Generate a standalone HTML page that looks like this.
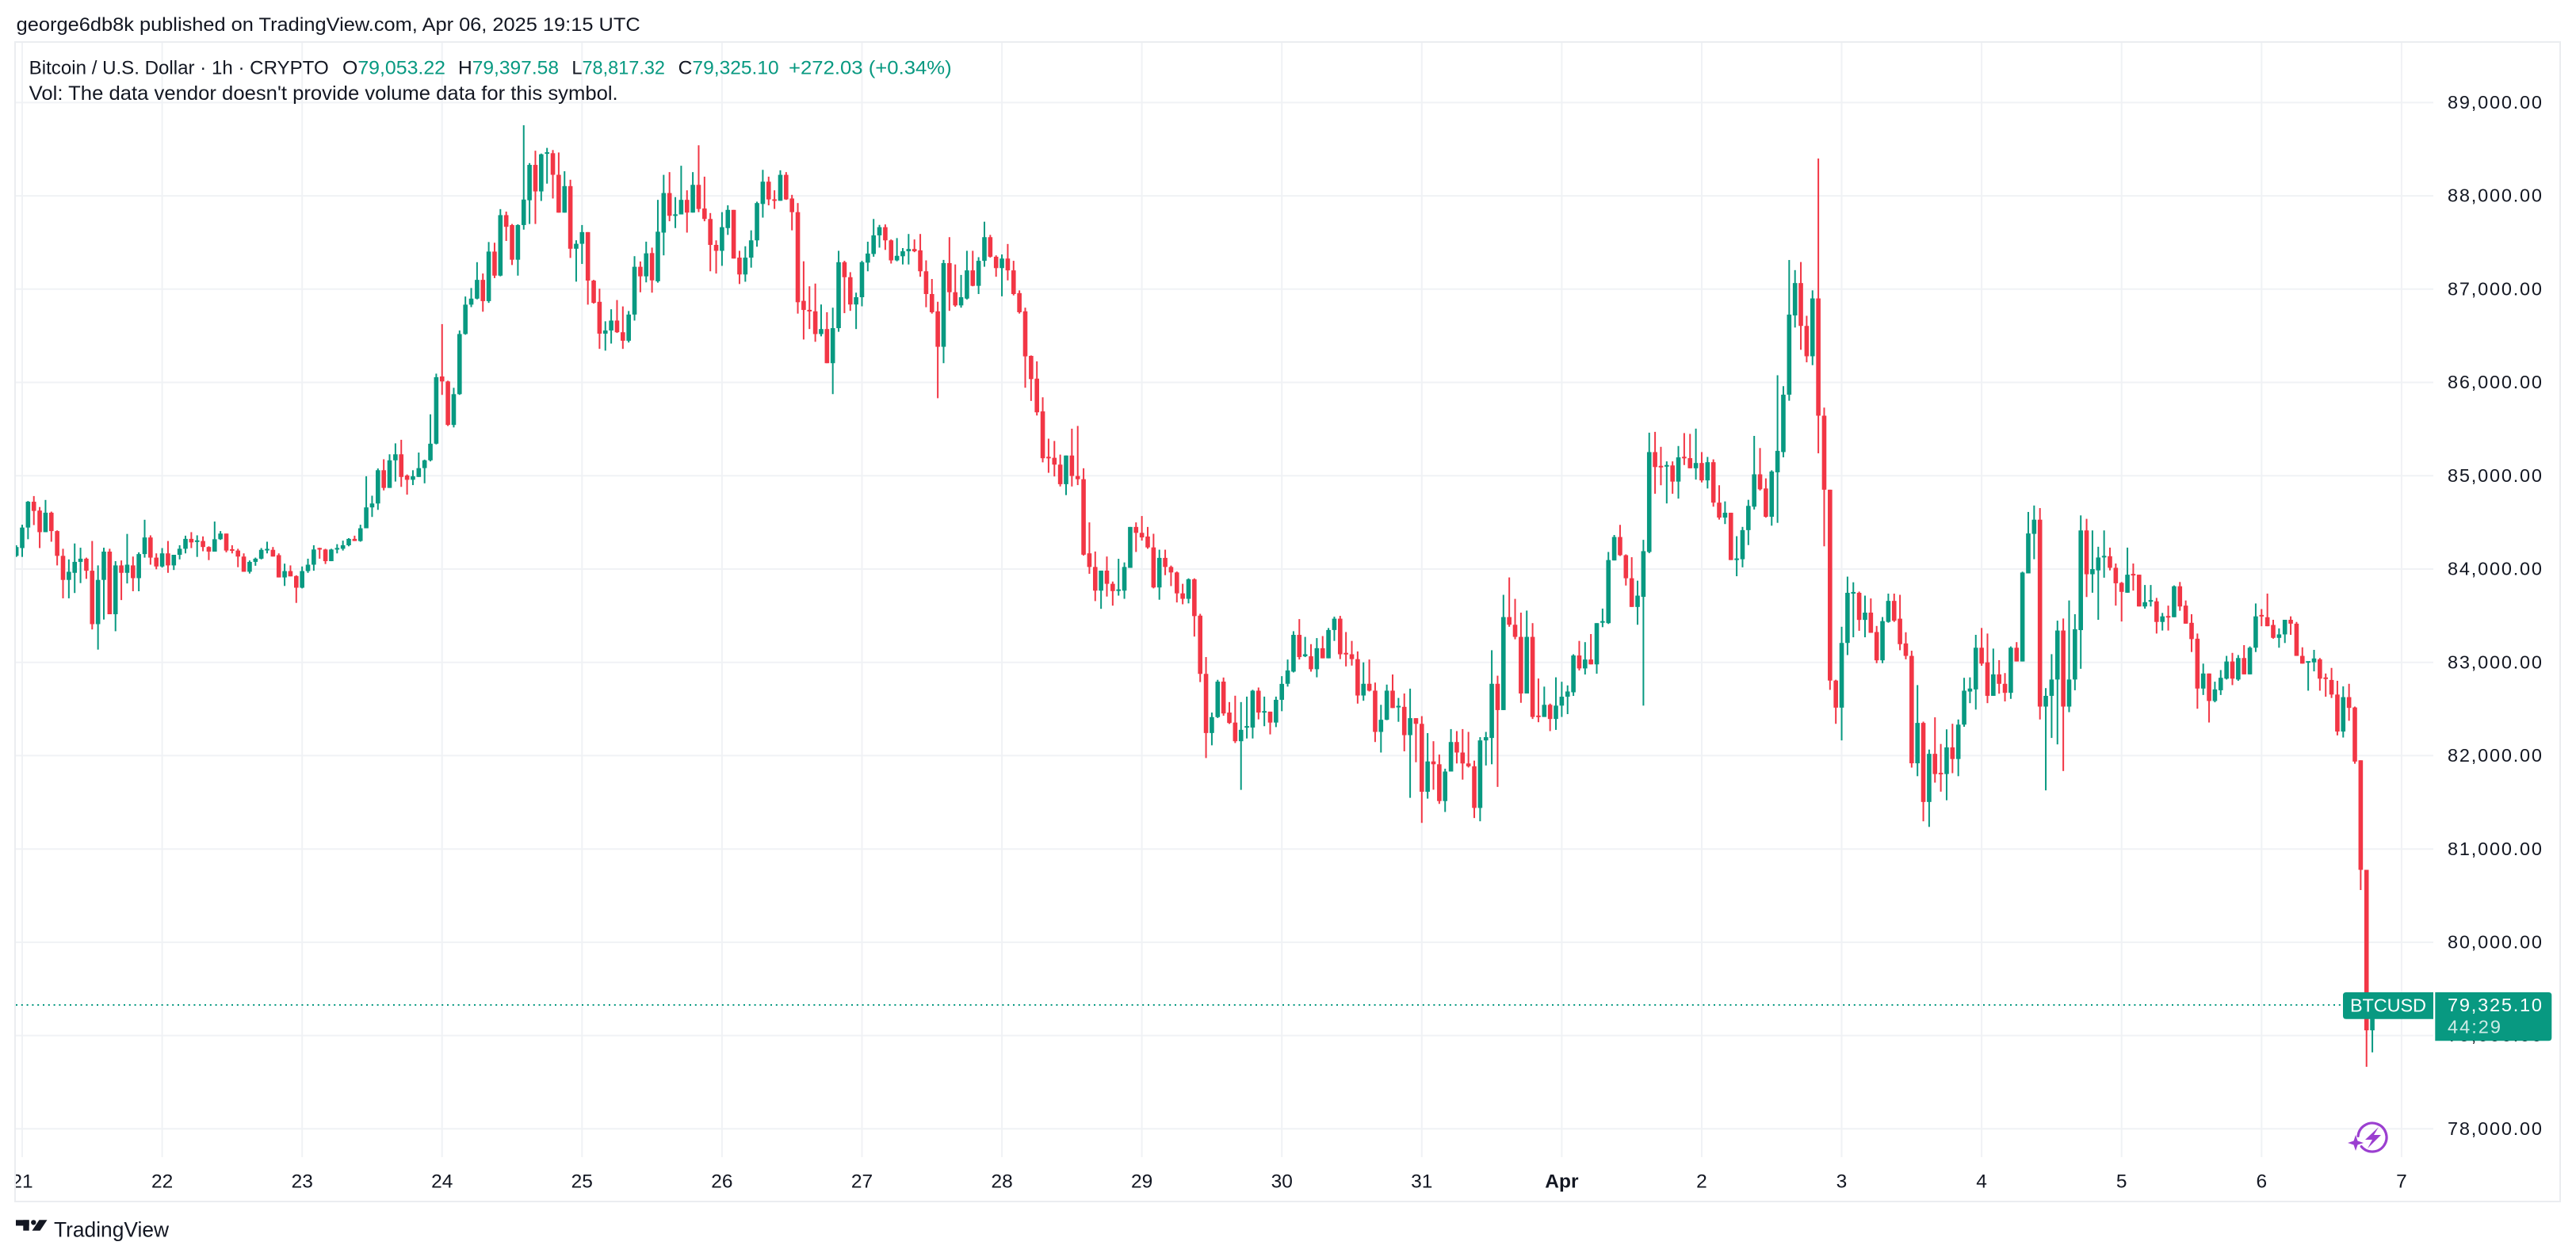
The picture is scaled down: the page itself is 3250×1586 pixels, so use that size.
<!DOCTYPE html>
<html><head><meta charset="utf-8"><style>
html,body{margin:0;padding:0;background:#fff;width:3250px;height:1586px;overflow:hidden}
svg{display:block}
text{font-family:"Liberation Sans",Arial,sans-serif;fill:#131722}
</style></head><body>
<svg id="s" width="3250" height="1586" viewBox="0 0 3250 1586" xmlns="http://www.w3.org/2000/svg">
<defs>
<clipPath id="cp"><rect x="20" y="54" width="3050" height="1406"/></clipPath>
<clipPath id="tp"><rect x="20" y="1460" width="3050" height="56"/></clipPath>
</defs>
<rect width="3250" height="1586" fill="#fff"/>
<g stroke="#f0f2f5" stroke-width="2">
<line x1="20" x2="3070" y1="1424.3" y2="1424.3"/>
<line x1="20" x2="3070" y1="1306.6" y2="1306.6"/>
<line x1="20" x2="3070" y1="1188.9" y2="1188.9"/>
<line x1="20" x2="3070" y1="1071.2" y2="1071.2"/>
<line x1="20" x2="3070" y1="953.4" y2="953.4"/>
<line x1="20" x2="3070" y1="835.7" y2="835.7"/>
<line x1="20" x2="3070" y1="718" y2="718"/>
<line x1="20" x2="3070" y1="600.3" y2="600.3"/>
<line x1="20" x2="3070" y1="482.5" y2="482.5"/>
<line x1="20" x2="3070" y1="364.8" y2="364.8"/>
<line x1="20" x2="3070" y1="247.1" y2="247.1"/>
<line x1="20" x2="3070" y1="129.4" y2="129.4"/>
<line y1="54" y2="1460" x1="28" x2="28"/>
<line y1="54" y2="1460" x1="204.6" x2="204.6"/>
<line y1="54" y2="1460" x1="381.2" x2="381.2"/>
<line y1="54" y2="1460" x1="557.7" x2="557.7"/>
<line y1="54" y2="1460" x1="734.3" x2="734.3"/>
<line y1="54" y2="1460" x1="910.9" x2="910.9"/>
<line y1="54" y2="1460" x1="1087.5" x2="1087.5"/>
<line y1="54" y2="1460" x1="1264.1" x2="1264.1"/>
<line y1="54" y2="1460" x1="1440.6" x2="1440.6"/>
<line y1="54" y2="1460" x1="1617.2" x2="1617.2"/>
<line y1="54" y2="1460" x1="1793.8" x2="1793.8"/>
<line y1="54" y2="1460" x1="1970.4" x2="1970.4"/>
<line y1="54" y2="1460" x1="2147" x2="2147"/>
<line y1="54" y2="1460" x1="2323.5" x2="2323.5"/>
<line y1="54" y2="1460" x1="2500.1" x2="2500.1"/>
<line y1="54" y2="1460" x1="2676.7" x2="2676.7"/>
<line y1="54" y2="1460" x1="2853.3" x2="2853.3"/>
<line y1="54" y2="1460" x1="3029.9" x2="3029.9"/>
</g>
<rect x="19" y="53" width="3211" height="1463" fill="none" stroke="#ebedf0" stroke-width="2"/>
<g id="candles" clip-path="url(#cp)"></g>
<line x1="20" x2="2956" y1="1268" y2="1268" stroke="#089981" stroke-width="2" stroke-dasharray="2 4.8"/>
<g font-size="23.5" text-anchor="end">
<text x="3207" y="1432" textLength="119">78,000.00</text>
<text x="3207" y="1314.2" textLength="119">79,000.00</text>
<text x="3207" y="1196.5" textLength="119">80,000.00</text>
<text x="3207" y="1078.8" textLength="119">81,000.00</text>
<text x="3207" y="961" textLength="119">82,000.00</text>
<text x="3207" y="843.3" textLength="119">83,000.00</text>
<text x="3207" y="725.6" textLength="119">84,000.00</text>
<text x="3207" y="607.9" textLength="119">85,000.00</text>
<text x="3207" y="490.1" textLength="119">86,000.00</text>
<text x="3207" y="372.4" textLength="119">87,000.00</text>
<text x="3207" y="254.7" textLength="119">88,000.00</text>
<text x="3207" y="137" textLength="119">89,000.00</text>
</g>
<g font-size="24.5" text-anchor="middle" clip-path="url(#tp)">
<text x="28" y="1498.3">21</text>
<text x="204.6" y="1498.3">22</text>
<text x="381.2" y="1498.3">23</text>
<text x="557.7" y="1498.3">24</text>
<text x="734.3" y="1498.3">25</text>
<text x="910.9" y="1498.3">26</text>
<text x="1087.5" y="1498.3">27</text>
<text x="1264.1" y="1498.3">28</text>
<text x="1440.6" y="1498.3">29</text>
<text x="1617.2" y="1498.3">30</text>
<text x="1793.8" y="1498.3">31</text>
<text x="1970.4" y="1498.3" font-weight="bold">Apr</text>
<text x="2147" y="1498.3">2</text>
<text x="2323.5" y="1498.3">3</text>
<text x="2500.1" y="1498.3">4</text>
<text x="2676.7" y="1498.3">5</text>
<text x="2853.3" y="1498.3">6</text>
<text x="3029.9" y="1498.3">7</text>
</g>
<path d="M2960 1252 H3070 V1285.7 H2960 Q2956 1285.7 2956 1281.7 V1256 Q2956 1252 2960 1252 Z" fill="#089981"/>
<text x="2965" y="1276.5" font-size="23.5" textLength="96" style="fill:#fff">BTCUSD</text>
<path d="M3072.3 1252 H3215.3 Q3219.3 1252 3219.3 1256 V1309.3 Q3219.3 1313.3 3215.3 1313.3 H3072.3 Z" fill="#089981"/>
<text x="3207" y="1276" font-size="23.5" text-anchor="end" textLength="119" style="fill:#fff">79,325.10</text>
<text x="3088" y="1303.3" font-size="23.5" textLength="67" style="fill:#fff;fill-opacity:0.8">44:29</text>
<g>
<path d="M2975.07 1433.43 A18 18 0 1 1 2979.2 1446.6" fill="none" stroke="#9b3fd0" stroke-width="3.2" stroke-linecap="round"/>
<polygon points="3001,1422 2984,1438 2993,1438 2987,1449 3004,1432 2995,1432" fill="#9b3fd0"/>
<polygon points="2972,1432 2974.5,1439.5 2982,1442 2974.5,1444.5 2972,1452 2969.5,1444.5 2962,1442 2969.5,1439.5" fill="#9b3fd0"/>
</g>
<text x="20.7" y="39" font-size="24" textLength="787" lengthAdjust="spacingAndGlyphs">george6db8k published on TradingView.com, Apr 06, 2025 19:15 UTC</text>
<text x="36.7" y="93.3" font-size="24" textLength="378" lengthAdjust="spacingAndGlyphs">Bitcoin / U.S. Dollar · 1h · CRYPTO</text>
<text x="432" y="93.3" font-size="24" textLength="130" lengthAdjust="spacingAndGlyphs">O<tspan style="fill:#089981">79,053.22</tspan></text>
<text x="578" y="93.3" font-size="24" textLength="127" lengthAdjust="spacingAndGlyphs">H<tspan style="fill:#089981">79,397.58</tspan></text>
<text x="721.4" y="93.3" font-size="24" textLength="117.6" lengthAdjust="spacingAndGlyphs">L<tspan style="fill:#089981">78,817.32</tspan></text>
<text x="855.7" y="93.3" font-size="24" textLength="127" lengthAdjust="spacingAndGlyphs">C<tspan style="fill:#089981">79,325.10</tspan></text>
<text x="995" y="93.3" font-size="24" textLength="205.7" lengthAdjust="spacingAndGlyphs" style="fill:#089981">+272.03 (+0.34%)</text>
<text x="36.7" y="126" font-size="25" textLength="743" lengthAdjust="spacingAndGlyphs">Vol: The data vendor doesn't provide volume data for this symbol.</text>
<g fill="#131722">
<rect x="20" y="1539.3" width="16.7" height="7.2"/>
<rect x="29.3" y="1539.3" width="7.4" height="13.4"/>
<circle cx="42.3" cy="1542.4" r="3.2"/>
<polygon points="49.5,1539.3 59.5,1539.3 50.5,1552.7 40.5,1552.7"/>
</g>
<text x="68" y="1560.7" font-size="26.5" textLength="145" lengthAdjust="spacingAndGlyphs">TradingView</text>
</svg>
<script>
(function(){
var S1=[[1,1210,1235,1205,1238],[1,1155,1213,1147,1238],[1,1082,1155,1080,1188],[0,1082,1108,1066,1148],[0,1107,1168,1097,1213],[1,1113,1168,1077,1168],[0,1113,1165,1110,1195],[0,1165,1235,1163,1262],[0,1235,1303,1215,1355],[1,1280,1303,1245,1355],[1,1252,1283,1200,1340],[1,1243,1252,1212,1312],[0,1243,1277,1240,1300],[0,1277,1428,1193,1443],[1,1303,1428,1262,1500],[1,1223,1303,1212,1415],[0,1223,1400,1215,1400],[1,1262,1400,1250,1448],[0,1262,1283,1248,1360],[1,1260,1283,1173,1313],[0,1262,1298,1237,1335],[1,1230,1298,1225,1335],[1,1183,1230,1133,1240],[0,1183,1240,1177,1260],[0,1240,1265,1228,1273],[1,1228,1265,1213,1268],[0,1228,1262,1193,1283],[1,1232,1262,1232,1275],[1,1215,1232,1205,1245],[1,1187,1215,1178,1228],[0,1187,1197,1168,1213],[1,1192,1195,1177,1238],[0,1193,1210,1180,1222],[0,1210,1223,1208,1247],[1,1188,1223,1138,1223],[1,1172,1188,1165,1190],[0,1172,1220,1172,1225],[0,1217,1220,1205,1228],[0,1220,1237,1215,1267],[0,1237,1280,1228,1280],[1,1252,1280,1248,1285],[1,1243,1252,1240,1263],[1,1218,1243,1213,1245],[1,1216,1219,1195,1228],[0,1218,1237,1210,1237],[0,1233,1296,1228,1296],[1,1278,1296,1257,1320],[0,1278,1293,1262,1293],[0,1292,1325,1290,1368],[1,1278,1325,1265,1327],[1,1260,1278,1243,1283],[1,1217,1260,1205,1277],[0,1213,1217,1212,1243],[0,1217,1250,1215,1258],[1,1217,1250,1215,1250],[1,1213,1217,1202,1228],[1,1205,1215,1192,1220],[1,1187,1205,1185,1208],[0,1187,1193,1178,1193],[1,1157,1193,1147,1195],[1,1098,1157,1010,1157],[1,1087,1098,1065,1125],[1,993,1087,988,1105],[0,993,1043,962,1050],[1,965,1043,948,1043],[1,948,965,917,1025],[0,948,1012,907,1040],[0,1008,1020,1005,1062],[1,1010,1020,993,1035],[1,987,1012,943,1012],[1,965,987,963,1030],[1,918,965,835,968],[1,730,918,720,920],[0,728,742,580,780],[0,742,865,740,868],[1,778,865,760,872],[1,608,778,598,780],[1,525,608,502,610],[1,508,525,478,532],[1,455,508,405,510],[0,455,515,437,545],[1,375,515,348,520],[0,375,443,350,450],[1,272,443,255,445],[0,272,305,262,345],[0,300,398,297,413],[1,300,398,298,443],[1,228,300,18,313],[1,130,230,125,297],[0,130,205,90,297],[1,100,205,98,232],[1,95,98,82,183],[0,97,158,88,225],[0,158,265,95,265],[1,190,265,148,265],[0,190,367,172,393],[1,353,367,343,460],[1,320,353,300,410],[0,320,457,320,525],[0,457,520,455,522],[0,517,607,480,650],[1,598,607,572,655],[1,570,598,538,635],[0,570,603,512,605],[0,603,627,530,650],[1,553,627,543,632],[1,418,553,388,570],[0,418,445,403,490],[1,380,445,347,462]];
var S2=[[0,295,355,283,382],[1,248,357,178,360],[1,163,250,123,300],[0,163,213,117,225],[1,210,213,172,240],[1,178,210,103,210],[0,178,206,157,250],[1,145,206,117,206],[0,145,198,58,205],[0,197,220,127,225],[0,220,277,207,335],[0,277,290,267,340],[1,238,290,205,323],[1,200,240,190,255],[0,200,307,200,307],[0,305,342,290,363],[1,305,342,280,358],[1,267,305,245,327],[1,185,267,182,281],[1,138,187,112,217],[0,138,177,127,190],[0,177,180,157,198],[1,123,180,113,180],[0,123,177,117,178],[0,175,205,167,245],[0,205,403,185,428],[0,400,420,313,485],[0,420,423,368,462],[0,423,473,362,490],[1,462,473,408,478],[0,462,537,425,537],[1,460,537,415,605],[1,315,460,290,468],[0,315,348,312,427],[0,348,408,337,422],[1,392,408,382,462],[1,315,392,312,412],[1,296,316,270,335],[1,256,297,220,303],[1,238,256,233,283],[0,238,267,232,288],[0,267,311,265,318],[1,301,311,262,313],[1,291,302,284,320],[1,286,291,253,320],[0,286,291,265,293],[0,289,335,253,347],[0,335,385,311,414],[0,385,425,352,428],[0,423,501,402,614],[1,317,501,310,537],[0,317,381,260,422],[0,381,410,320,413],[1,392,410,343,415],[1,333,395,290,397],[0,333,367,290,368],[1,312,367,304,385],[1,260,312,226,325],[0,260,303,255,305],[0,303,328,300,347],[1,307,328,298,390],[0,307,333,275,355],[0,333,385,312,388],[0,383,425,377,428],[0,423,522,415,591],[0,521,572,520,620],[0,571,645,533,652],[0,643,746,612,755],[0,743,746,703,778],[0,745,760,708,786],[0,760,803,738,808],[1,740,803,740,827],[0,740,785,681,808],[0,785,792,675,805],[0,792,958,768,960],[0,955,985,887,1000],[0,985,1037,951,1060],[1,993,1037,993,1077],[0,993,1022,962,1050],[0,1022,1038,1017,1070],[1,1035,1037,967,1048],[1,985,1037,975,1055],[1,897,987,897,987],[0,897,910,887,952],[0,910,920,873,927],[0,918,942,897,945],[0,942,1030,912,1032],[1,965,1030,947,1057],[0,965,985,947,1003],[0,985,997,982,1027],[0,997,1043,995,1063],[0,1043,1055,1022,1067],[1,1012,1055,1010,1065],[0,1012,1093,1010,1138],[0,1092,1220,1088,1238],[0,1220,1350,1183,1405],[1,1315,1350,1305,1377],[1,1237,1315,1233,1317],[0,1237,1307,1228,1312],[0,1305,1328,1282,1330],[0,1327,1368,1268,1372],[1,1343,1368,1282,1475],[1,1335,1338,1270,1362],[1,1257,1338,1255,1362],[0,1257,1305,1250,1320],[1,1302,1305,1270,1335],[0,1303,1327,1303,1353],[1,1277,1327,1270,1337],[1,1242,1277,1225,1302]];
var S3=[[1,1070,1103,1043,1110],[1,982,1073,973,1075],[0,982,1037,943,1043],[1,1030,1035,987,1037],[0,1035,1067,1005,1073],[1,1015,1067,990,1087],[0,1015,1040,985,1040],[1,970,1040,965,1040],[1,942,970,937,997],[0,942,1030,935,1042],[0,1027,1030,975,1060],[0,1030,1042,997,1058],[0,1042,1132,1023,1152],[1,1103,1132,1050,1145],[0,1103,1120,1043,1122],[0,1120,1222,1100,1247],[1,1192,1222,1155,1273],[1,1120,1192,1105,1193],[0,1120,1163,1080,1163],[1,1158,1161,1138,1197],[0,1160,1230,1127,1270],[1,1188,1230,1115,1385],[0,1188,1202,1188,1297],[0,1202,1370,1183,1447],[1,1295,1370,1225,1387],[0,1295,1302,1245,1365],[0,1302,1393,1278,1400],[1,1320,1393,1313,1420],[1,1247,1320,1215,1320],[0,1247,1273,1220,1300],[0,1273,1300,1215,1340],[0,1300,1307,1222,1310],[0,1307,1410,1293,1435],[1,1243,1410,1235,1443],[1,1235,1243,1222,1305],[1,1103,1237,1020,1302],[0,1103,1168,1083,1358],[1,938,1168,883,1168],[0,938,957,840,962],[0,957,987,893,993],[0,987,1127,927,1150],[1,987,1127,922,1127],[0,987,1185,953,1190],[0,1182,1185,1090,1198],[1,1155,1185,1110,1185],[0,1155,1190,1152,1220],[1,1157,1190,1087,1217],[1,1135,1157,1098,1185],[1,1122,1135,1107,1178],[1,1033,1124,1030,1133],[0,1033,1065,997,1070],[1,1043,1065,1000,1080],[0,1043,1055,980,1055],[1,953,1055,953,1078],[1,948,952,917,963],[1,797,953,777,955],[1,740,798,735,798],[0,740,785,710,787],[0,785,842,783,860],[0,842,913,790,913],[1,885,913,848,957],[1,775,888,747,1157],[1,530,777,482,780],[0,530,567,480,633],[0,565,567,517,612],[1,563,565,553,657],[0,563,603,553,633],[1,543,603,515,645],[0,542,545,483,562],[0,545,570,485,570],[1,557,570,472,598],[0,557,600,530,605],[1,555,600,542,620],[0,555,655,548,665],[0,655,692,612,697],[1,680,692,652,708],[0,680,797,680,797],[1,793,797,738,837],[1,723,795,715,815],[1,663,723,648,760],[1,585,665,490,672],[0,585,622,520,625],[0,620,690,595,692],[1,578,690,575,712],[1,527,580,340,705],[1,388,530,367,543],[1,190,388,55,403],[1,112,192,80,222],[0,112,218,60,277],[0,218,293,193,308],[1,150,293,130,315],[0,150,440,-196,533],[0,440,623,420,763],[0,623,1095,623,1118],[0,1095,1162,1093,1202],[1,1002,1162,962,1243],[1,878,1002,838,1032],[1,876,880,852,988],[0,878,945,875,972],[1,927,945,885,988],[0,927,977,892,977],[0,975,1045,960,1052],[1,948,1045,938,1052],[1,898,950,880,952],[0,898,947,880,950],[0,942,1005,883,1020]];
var S4=[[0,483,512,457,520],[0,512,762,500,772],[1,668,762,580,792],[0,668,852,665,897],[1,740,852,730,910],[0,740,787,655,807],[0,785,787,717,828],[1,725,787,683,848],[0,725,752,670,785],[1,672,752,660,792],[1,593,672,563,677],[1,588,595,562,622],[1,493,590,463,637],[0,493,530,447,535],[0,527,605,460,622],[1,555,605,495,605],[0,555,577,522,600],[0,577,598,552,618],[1,493,598,490,612],[0,493,525,480,525],[1,318,525,316,525],[1,227,320,177,320],[1,195,228,162,287],[0,195,630,168,660],[1,605,630,587,825],[1,567,605,508,703],[1,453,567,430,718],[0,453,630,425,780],[1,567,630,383,643],[1,450,567,415,592],[1,220,452,185,542],[0,220,322,193,375],[1,310,322,220,365],[1,283,313,258,428],[1,280,282,220,330],[0,280,307,260,313],[0,307,343,297,395],[0,342,363,340,432],[1,323,365,260,365],[0,322,324,297,360],[0,323,397,323,397],[1,387,397,347,402],[1,383,385,347,397],[0,385,433,377,460],[1,420,433,412,453],[0,420,422,395,453],[1,350,422,348,422],[0,350,397,340,407],[0,395,437,383,437],[0,435,473,415,503],[0,472,588,460,635],[1,553,588,530,603],[0,553,617,553,667],[1,590,617,572,620],[1,563,592,545,603],[1,525,565,512,567],[0,525,565,505,580],[1,517,567,510,570],[0,517,555,487,555],[1,493,555,490,555],[1,420,493,390,503],[0,417,420,403,443],[0,422,443,367,443],[0,440,470,428,472],[1,462,470,448,493],[1,428,462,428,482],[0,428,437,420,463],[0,437,512,433,512],[0,512,530,492,530],[1,525,527,525,593],[1,518,527,498,548],[0,520,565,517,593],[0,563,565,553,607],[0,568,602,540,610],[0,602,688,570,697],[1,608,688,583,702],[0,608,633,577,663],[0,632,758,630,763],[0,755,1010,755,1057],[0,1010,1383.5,1010,1468.4],[1,1324.5,1383.5,1308.6,1434.8]];
var segs=[[150,700/1568,-1,S1],[150,900/1568,108,S2],[300,800/1568,217,S3],[550,850/1568,323,S4]];
var out='';
for(var s=0;s<segs.length;s++){
 var y0=segs[s][0],sy=segs[s][1],h0=segs[s][2],arr=segs[s][3];
 for(var i=0;i<arr.length;i++){
  var c=arr[i],h=h0+i,x=28+h*7.3575,col=c[0]?'#089981':'#f23645';
  var T=y0+c[1]*sy,B=y0+c[2]*sy,WT=y0+c[3]*sy,WB=y0+c[4]*sy;
  if(WT>T)WT=T; if(WB<B)WB=B;
  if(B-T<2){var m=(T+B)/2;T=m-1;B=m+1;}
  out+='<rect x="'+(x-1).toFixed(2)+'" y="'+WT.toFixed(2)+'" width="2" height="'+(WB-WT).toFixed(2)+'" fill="'+col+'"/>'+
       '<rect x="'+(x-2.8).toFixed(2)+'" y="'+T.toFixed(2)+'" width="5.6" height="'+(B-T).toFixed(2)+'" fill="'+col+'"/>';
 }
}
document.getElementById('candles').innerHTML=out;
})();
</script>
</body></html>
